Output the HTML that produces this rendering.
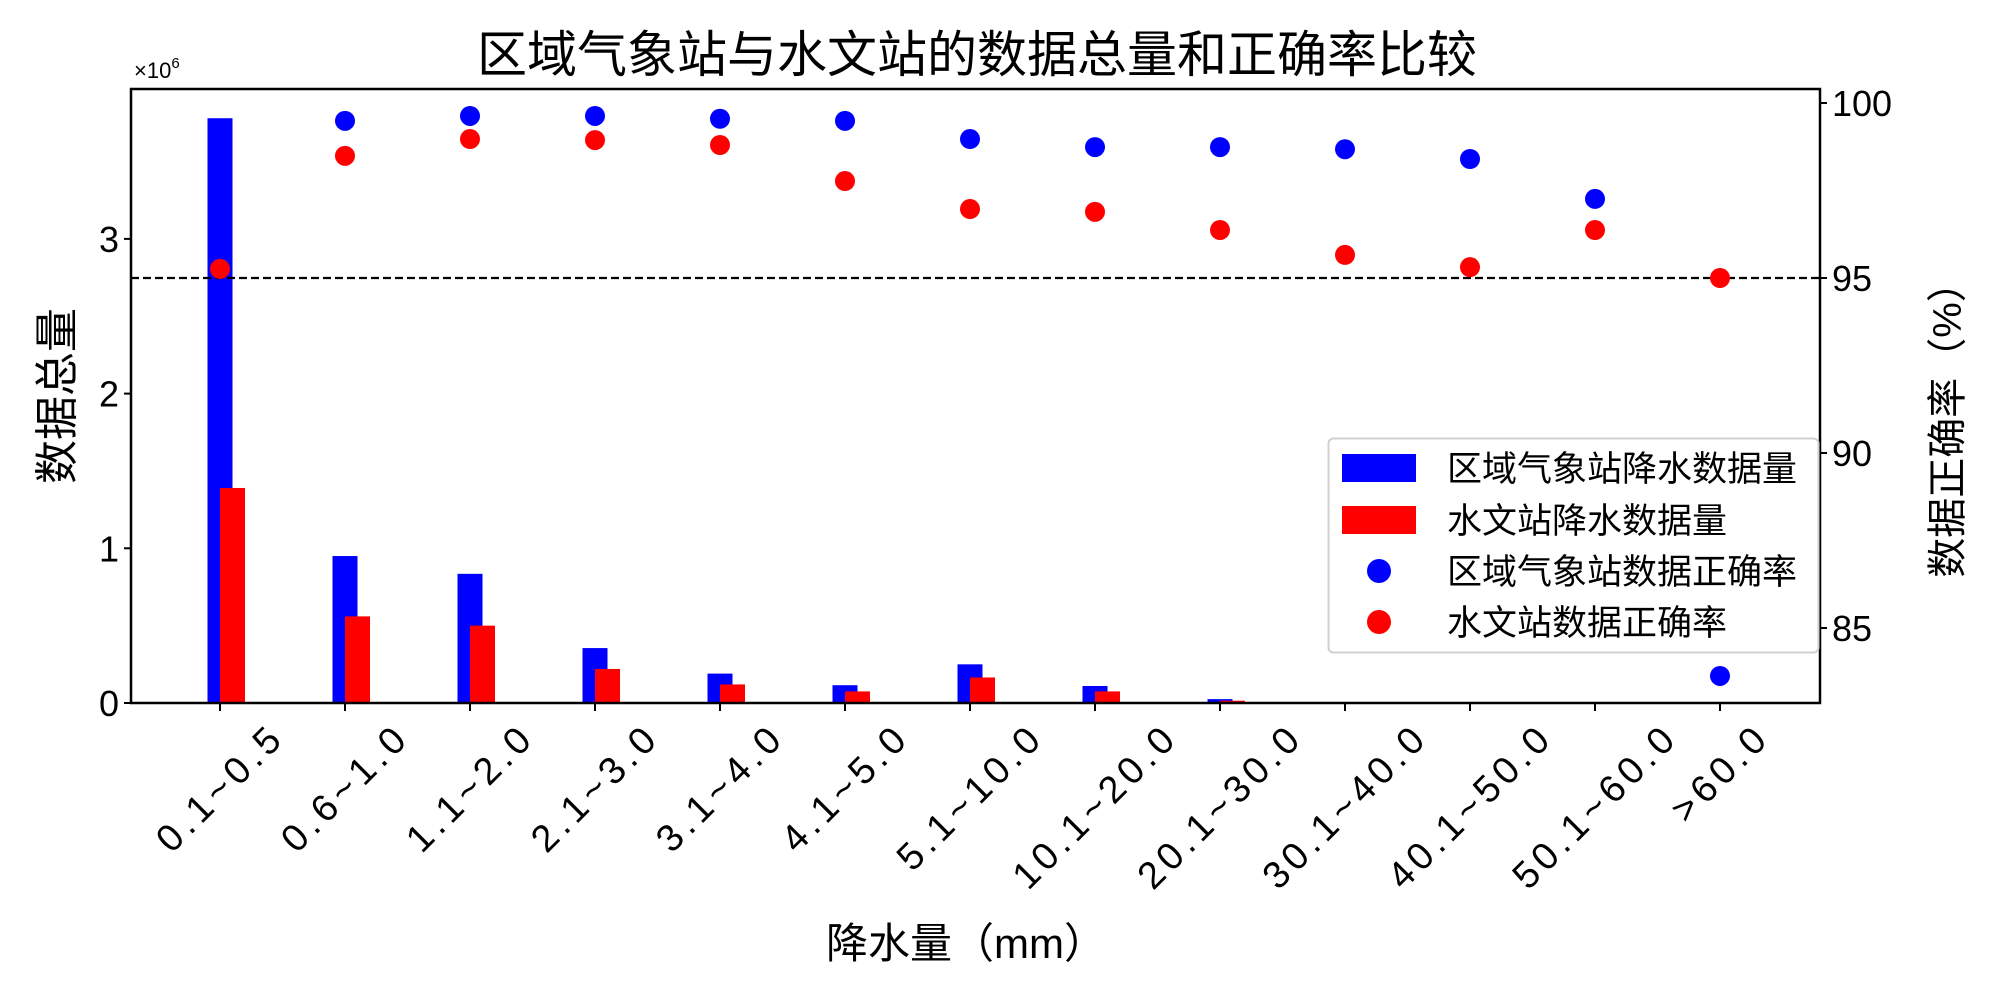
<!DOCTYPE html>
<html><head><meta charset="utf-8">
<style>
html,body{margin:0;padding:0;background:#fff;}
svg{display:block;font-family:"Liberation Sans","Noto Sans CJK SC",sans-serif;}
</style></head>
<body>
<svg id="chart" width="2000" height="1000" viewBox="0 0 2000 1000" xmlns="http://www.w3.org/2000/svg">
<rect width="2000" height="1000" fill="#fff"/>
<text x="977" y="72" font-size="50" text-anchor="middle" font-family="'Liberation Sans','Noto Sans CJK SC',sans-serif">区域气象站与水文站的数据总量和正确率比较</text>
<g id="plot"></g>
<text x="134" y="78" font-size="22">×10<tspan dy="-10" font-size="15">6</tspan></text>
<text transform="translate(72,396) rotate(-90)" font-size="44" text-anchor="middle">数据总量</text>
<text transform="translate(1961,420) rotate(-90)" font-size="40" text-anchor="middle">数据正确率（%）</text>
<text x="966" y="958" font-size="42" text-anchor="middle">降水量（mm）</text>
<g>
<rect x="1328.5" y="438.5" width="490" height="214" rx="5" fill="#fff" fill-opacity="0.85" stroke="#d0d0d0" stroke-width="2"/>
<rect x="1342" y="454" width="74" height="28" fill="#0000ff"/>
<text x="1447" y="481" font-size="35">区域气象站降水数据量</text>
<rect x="1342" y="506" width="74" height="28" fill="#ff0000"/>
<text x="1447" y="533" font-size="35">水文站降水数据量</text>
<circle cx="1379" cy="571" r="12" fill="#0000ff"/>
<text x="1447" y="584" font-size="35">区域气象站数据正确率</text>
<circle cx="1379" cy="622" r="12" fill="#ff0000"/>
<text x="1447" y="635" font-size="35">水文站数据正确率</text>
</g>
</svg>
<script>
const categories = ["0.1~0.5","0.6~1.0","1.1~2.0","2.1~3.0","3.1~4.0","4.1~5.0","5.1~10.0","10.1~20.0","20.1~30.0","30.1~40.0","40.1~50.0","50.1~60.0",">60.0"];
const regionalCount = [3.78,0.95,0.835,0.355,0.19,0.115,0.25,0.11,0.025,0.005,0.002,0.001,0.001];
const hydroCount = [1.39,0.56,0.50,0.22,0.12,0.075,0.165,0.075,0.015,0.003,0.001,0.001,0.001];
const regionalAcc = [99.2,99.49,99.63,99.63,99.55,99.49,98.97,98.74,98.74,98.68,98.4,97.26,83.63];
const hydroAcc = [95.26,98.49,98.97,98.94,98.8,97.77,96.97,96.89,96.37,95.66,95.31,96.37,95.0];
const leftTicks = [0,1,2,3];
const rightTicks = [85,90,95,100];
const threshold = [95];

const NS = "http://www.w3.org/2000/svg";
const L = 131, R = 1820, T = 89, B = 703;
const xPos = i => 220 + 125 * i;
const yLeft = v => B - v * 154.7;
const yRight = v => 103 + (100 - v) * 35;
const g = document.getElementById('plot');
function mk(tag, attrs, parent) {
  const e = document.createElementNS(NS, tag);
  for (const k in attrs) e.setAttribute(k, attrs[k]);
  (parent || g).appendChild(e);
  return e;
}
categories.forEach((c, i) => {
  const v = regionalCount[i];
  const b = mk('rect', {x: xPos(i) - 12.5, y: yLeft(v), width: 25, height: B - yLeft(v), fill: '#0000ff'});
  
  
});
categories.forEach((c, i) => {
  const v = hydroCount[i];
  const b = mk('rect', {x: xPos(i), y: yLeft(v), width: 25, height: B - yLeft(v), fill: '#ff0000'});
  
  
});
threshold.forEach(t => {
  const ln = mk('line', {x1: L, x2: R, y1: yRight(t), y2: yRight(t), stroke: '#000', 'stroke-width': 2.2, 'stroke-dasharray': '8,4'});
  
  
});
categories.forEach((c, i) => {
  const p = mk('circle', {cx: xPos(i), cy: yRight(regionalAcc[i]), r: 10, fill: '#0000ff'});
  
  
});
categories.forEach((c, i) => {
  const p = mk('circle', {cx: xPos(i), cy: yRight(hydroAcc[i]), r: 10, fill: '#ff0000'});
  
  
});
const fr = mk('rect', {x: L, y: T, width: R - L, height: B - T, fill: 'none', stroke: '#000', 'stroke-width': 2.5});


leftTicks.forEach(t => {
  const y = yLeft(t);
  const tk = mk('line', {x1: L - 7, x2: L, y1: y, y2: y, stroke: '#000', 'stroke-width': 2});
  
  
  const tx = mk('text', {x: L - 12, y: y + 13, 'font-size': 36, 'text-anchor': 'end'});
  tx.textContent = t;
  
  
});
rightTicks.forEach(t => {
  const y = yRight(t);
  const tk = mk('line', {x1: R, x2: R + 7, y1: y, y2: y, stroke: '#000', 'stroke-width': 2});
  
  
  const tx = mk('text', {x: R + 12, y: y + 13, 'font-size': 36});
  tx.textContent = t;
  
  
});
categories.forEach((c, i) => {
  const x = xPos(i);
  const tk = mk('line', {x1: x, x2: x, y1: B, y2: B + 8, stroke: '#000', 'stroke-width': 2});
  
  
  const tx = mk('text', {'font-size': 38, 'text-anchor': 'middle', 'letter-spacing': 5});
  tx.textContent = c;
  
  
  const len = tx.getComputedTextLength ? tx.getComputedTextLength() : c.length * 25;
  const half = len * Math.SQRT1_2 / 2;
  const cy = B + 14 + half + 13;
  tx.setAttribute('transform', 'translate(' + x + ',' + cy + ') rotate(-45)');
  tx.setAttribute('dy', 13);
});
</script>
</body></html>
